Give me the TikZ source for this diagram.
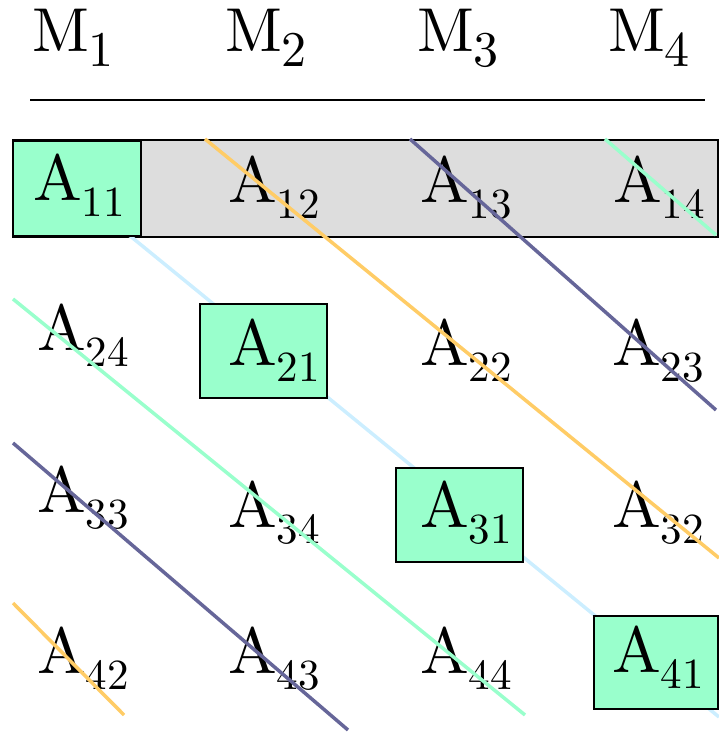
\documentclass[tikz,border=0pt]{standalone}
\usepackage{fontspec}
\newfontfamily\tmsfont{lmroman10-regular.otf}
\definecolor{mint}{HTML}{99FFCC}
\definecolor{lblue}{HTML}{CCEEFF}
\definecolor{orng}{HTML}{FFCC66}
\definecolor{navy}{HTML}{666699}
\definecolor{bandgray}{HTML}{DDDDDD}
\newcommand\Aent[1]{{\tmsfont\fontsize{65}{70}\selectfont A}\raisebox{-16pt}{\tmsfont\fontsize{43}{46}\selectfont #1}}
\newcommand\Mhead[1]{{\tmsfont\fontsize{62}{66}\selectfont M}\raisebox{-15pt}{\tmsfont\fontsize{50}{52}\selectfont #1}}
\begin{document}
\begin{tikzpicture}[x=1pt,y=-1pt,
  txt/.style={anchor=base west,inner sep=0pt,outer sep=0pt},
  diag/.style={line width=3.5pt},
  greenbox/.style={draw=black,fill=mint,line width=2pt,anchor=north west,inner sep=0pt,minimum width=127pt,minimum height=94pt}]
\useasboundingbox (0,0) rectangle (719,733);
% header
\node[txt] (m1) at (32,52) {\Mhead{1}};
\node[txt] (m2) at (225,52) {\Mhead{2}};
\node[txt] (m3) at (417,52) {\Mhead{3}};
\node[txt] (m4) at (608,52) {\Mhead{4}};
\coordinate (hl1) at (30,100);
\coordinate (hl2) at (705,100);
\draw[line width=2pt] (hl1) -- (hl2);
% band
\node[draw=black,fill=bandgray,line width=2pt,anchor=north west,inner sep=0pt,minimum width=705pt,minimum height=97pt] (band) at (12,139) {};
% plain entries
\node[txt] (a12) at (228,202) {\Aent{12}};
\node[txt] (a13) at (420,202) {\Aent{13}};
\node[txt] (a14) at (613,202) {\Aent{14}};
\node[txt] (a24) at (37,350) {\Aent{24}};
\node[txt] (a22) at (420,365) {\Aent{22}};
\node[txt] (a23) at (612,365) {\Aent{23}};
\node[txt] (a33) at (37,512) {\Aent{33}};
\node[txt] (a34) at (228,527) {\Aent{34}};
\node[txt] (a32) at (612,527) {\Aent{32}};
\node[txt] (a42) at (37,673) {\Aent{42}};
\node[txt] (a43) at (228,673) {\Aent{43}};
\node[txt] (a44) at (420,673) {\Aent{44}};
% diagonal lines
\coordinate (lb1) at (80,195);
\coordinate (lb2) at (719,717);
\coordinate (or1) at (205,139);
\coordinate (or2) at (719,558);
\coordinate (or3) at (13,603);
\coordinate (or4) at (124,715);
\coordinate (nv1) at (410,139);
\coordinate (nv2) at (716,410);
\coordinate (nv3) at (13,443);
\coordinate (nv4) at (348,730);
\coordinate (mt1) at (605,139);
\coordinate (mt2) at (716,235);
\coordinate (mt3) at (13,299);
\coordinate (mt4) at (525,715);
\draw[diag,lblue] (lb1) -- (lb2);
\draw[diag,orng] (or1) -- (or2);
\draw[diag,orng] (or3) -- (or4);
\draw[diag,navy] (nv1) -- (nv2);
\draw[diag,navy] (nv3) -- (nv4);
\draw[diag,mint] (mt1) -- (mt2);
\draw[diag,mint] (mt3) -- (mt4);
% boxed entries
\node[greenbox,minimum width=128pt,minimum height=95pt] (b11) at (12,140) {};
\node[txt] (a11) at (33,200) {\Aent{11}};
\node[greenbox] (b21) at (199,303) {};
\node[txt] (a21) at (228,365) {\Aent{21}};
\node[greenbox] (b31) at (395,467) {};
\node[txt] (a31) at (420,527) {\Aent{31}};
\node[greenbox,minimum width=124pt,minimum height=93pt] (b41) at (593,615) {};
\node[txt] (a41) at (612,672) {\Aent{41}};
\end{tikzpicture}
\end{document}
